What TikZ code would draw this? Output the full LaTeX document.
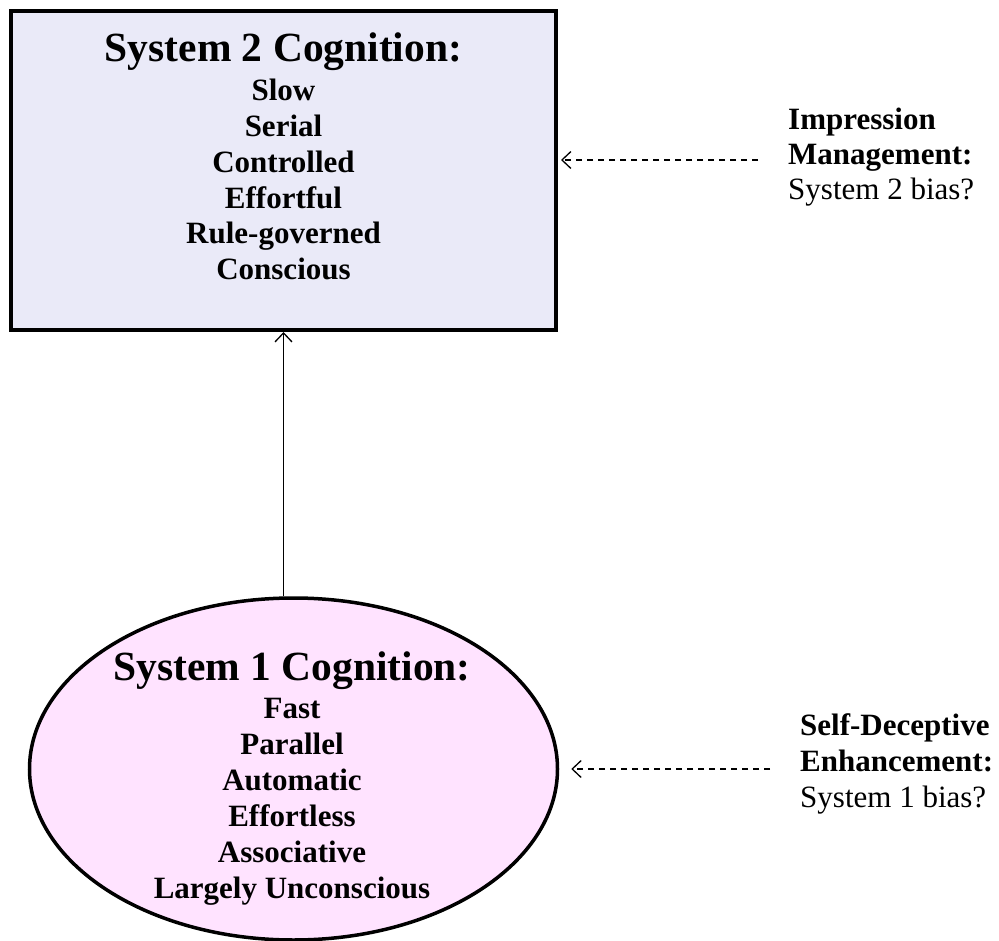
\documentclass[tikz,border=0pt]{standalone}
\usepackage{fontspec}
\setmainfont{Liberation Serif}
\usetikzlibrary{shapes.geometric,arrows.meta}

\definecolor{boxfill}{RGB}{234,234,248}
\definecolor{ovalfill}{RGB}{255,227,255}

\tikzset{
  sysbox/.style={draw=black, line width=4pt, fill=boxfill, inner sep=0pt},
  sysoval/.style={ellipse, draw=black, line width=3.5pt, fill=ovalfill, inner sep=0pt},
  headline/.style={anchor=base, inner sep=0pt, font=\bfseries\fontsize{41.5}{45}\selectfont},
  listline/.style={anchor=base, inner sep=0pt, font=\bfseries\fontsize{31}{36}\selectfont},
  sidebold/.style={anchor=base west, inner sep=0pt, font=\bfseries\fontsize{31}{36}\selectfont},
  sideplain/.style={anchor=base west, inner sep=0pt, font=\fontsize{31}{36}\selectfont},
  solidarrow/.style={line width=1.3pt, -{Straight Barb[length=9pt,width=17pt,line width=1.3pt]}},
  dasharrow/.style={line width=1.3pt, dash pattern=on 6pt off 5pt,
    -{Straight Barb[length=9pt,width=17pt,line width=1.3pt]}}
}

\begin{document}
\begin{tikzpicture}[x=1pt,y=-1pt]
  \useasboundingbox (0,0) rectangle (999,941);

  % System 2: rectangle
  \node[sysbox, minimum width=545pt, minimum height=319pt] (sys2) at (283.5,170.5) {};
  \node[headline] (s2title) at (283.5,62) {System 2 Cognition:};
  \foreach \t [count=\i from 0] in {Slow,Serial,Controlled,Effortful,Rule-governed,Conscious}
    \node[listline] (s2item\i) at (283.5,101+35.7*\i) {\t};

  % System 1: ellipse
  \node[sysoval, minimum width=528pt, minimum height=342pt] (sys1) at (293.5,769) {};
  \node[headline] (s1title) at (292,680) {System 1 Cognition:};
  \foreach \t [count=\i from 0] in {Fast,Parallel,Automatic,Effortless,Associative,Largely Unconscious}
    \node[listline] (s1item\i) at (292,718+36*\i) {\t};

  % System 1 feeds System 2
  \draw[solidarrow] (sys2.south |- sys1.north) -- (sys2.south);

  % Impression management label
  \node[sidebold] (im1) at (788,130) {Impression};
  \node[sidebold] (im2) at (788,165) {Management:};
  \node[sideplain] (im3) at (788,200) {System 2 bias?};
  \coordinate (imtail) at (758,160);
  \draw[dasharrow, shorten >=3pt] (imtail) -- (imtail -| sys2.east);

  % Self-deceptive enhancement label
  \node[sidebold] (se1) at (800,735) {Self-Deceptive};
  \node[sidebold] (se2) at (800,771) {Enhancement:};
  \node[sideplain] (se3) at (800,807) {System 1 bias?};
  \coordinate (setail) at (770,769);
  \draw[dasharrow, shorten >=12pt] (setail) -- (sys1.east);
\end{tikzpicture}
\end{document}
